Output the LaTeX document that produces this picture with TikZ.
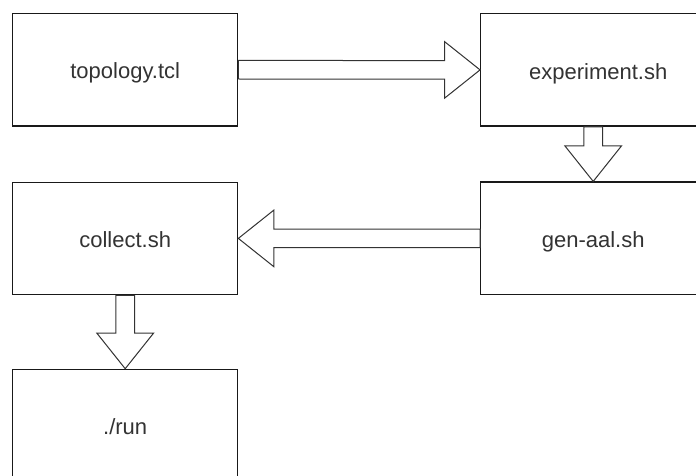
\documentclass[tikz,border=0pt]{standalone}
\usepackage{fontspec}
\setmainfont{Liberation Sans}
\usetikzlibrary{calc}

% block arrow geometry (shaft half width, head half width, head length)
\newcommand\ArW{9.3}
\newcommand\ArH{28.3}
\newcommand\ArL{35.5}
% #1 start anchor, #2 end anchor, (#3,#4) unit direction in picture coordinates
\newcommand\drawblockarrow[4]{%
  \draw[blockarrow]
    ([shift={({-\ArW*(#4)},{\ArW*(#3)})}]#1)
    -- ([shift={({-\ArL*(#3)-\ArW*(#4)},{-\ArL*(#4)+\ArW*(#3)})}]#2)
    -- ([shift={({-\ArL*(#3)-\ArH*(#4)},{-\ArL*(#4)+\ArH*(#3)})}]#2)
    -- (#2)
    -- ([shift={({-\ArL*(#3)+\ArH*(#4)},{-\ArL*(#4)-\ArH*(#3)})}]#2)
    -- ([shift={({-\ArL*(#3)+\ArW*(#4)},{-\ArL*(#4)-\ArW*(#3)})}]#2)
    -- ([shift={({\ArW*(#4)},{-\ArW*(#3)})}]#1)
    -- cycle;}

\begin{document}
\begin{tikzpicture}[x=1pt, y=-1pt,
  box/.style={draw=black!90, line width=1.3pt, fill=white,
    minimum width=225pt, minimum height=112.5pt, inner sep=0pt,
    text height=18.4pt, text depth=0pt,
    font=\fontsize{22}{26}\selectfont, text=black!80},
  blockarrow/.style={draw=black!80, line width=1pt, fill=white, line join=miter}]
\useasboundingbox (0,0) rectangle (696,476);
\clip (0,0) rectangle (696,476);
\fill[white] (0,0) rectangle (696,476);

\node[box] (top) at (125.2,69.7)  {topology.tcl};
\node[box] (exp) at (593.2,69.9)  {\hspace*{10pt}experiment.sh};
\node[box] (gen) at (593.2,238.3) {gen-aal.sh};
\node[box] (col) at (125.2,238.4) {collect.sh};
\node[box] (run) at (125.2,425.6) {./run};

\drawblockarrow{top.east}{exp.west}{1}{0}
\drawblockarrow{exp.south}{gen.north}{0}{1}
\drawblockarrow{gen.west}{col.east}{-1}{0}
\drawblockarrow{col.south}{run.north}{0}{1}
\end{tikzpicture}
\end{document}
